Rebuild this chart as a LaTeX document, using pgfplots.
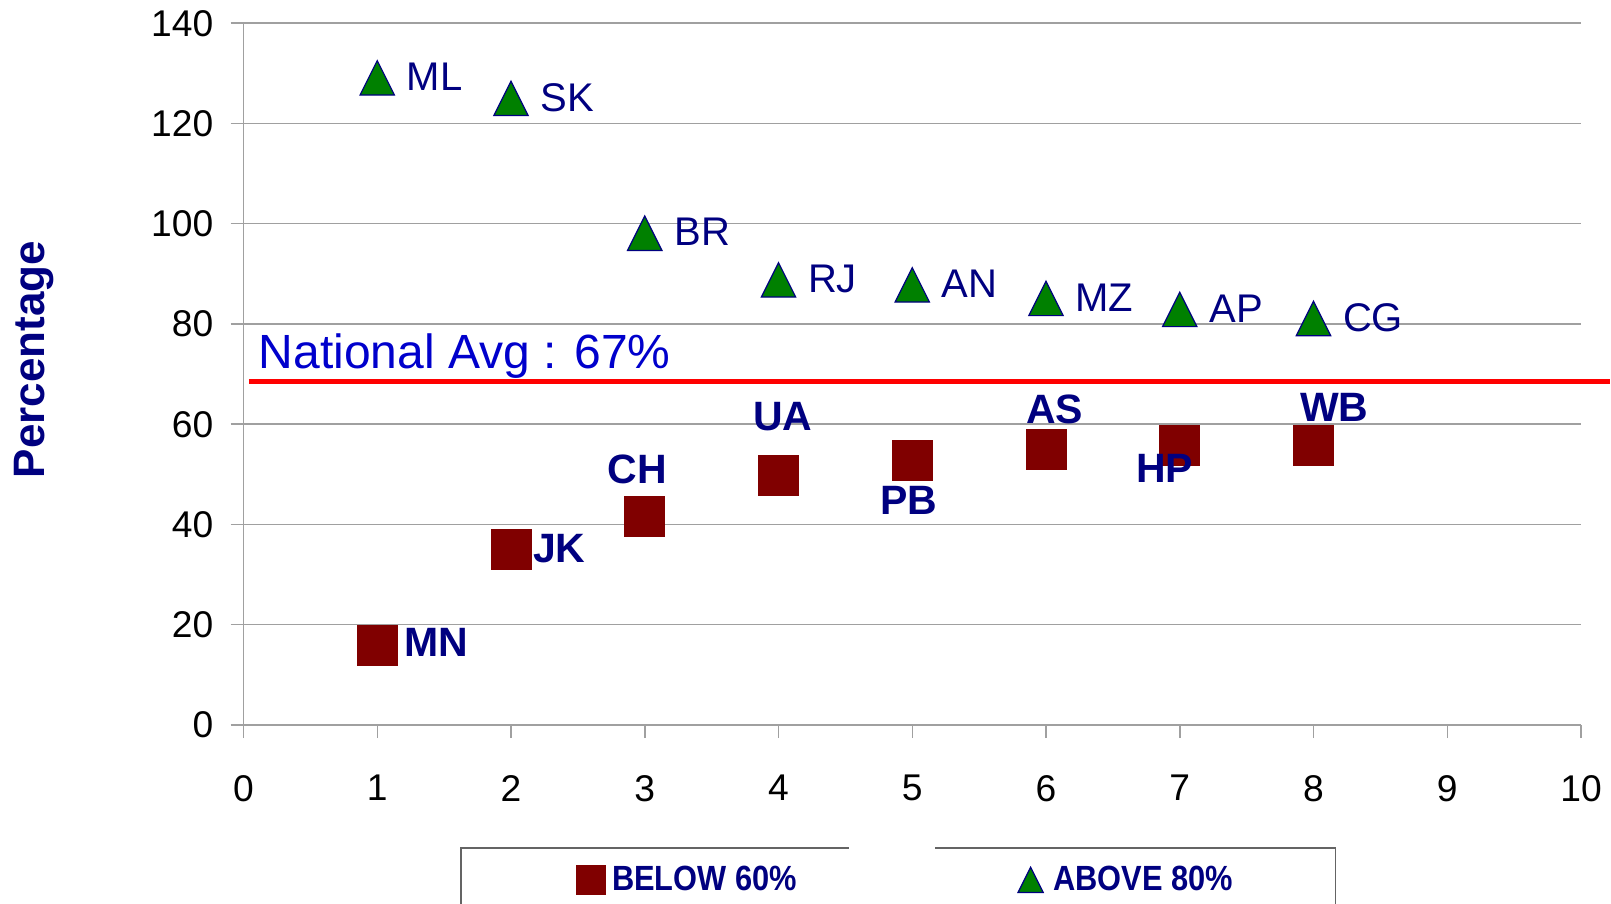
\documentclass[border=0pt]{standalone}
\usepackage{fontspec}
\setmainfont{Liberation Sans}
\newfontfamily\condfont[FakeStretch=0.88]{Liberation Sans}
\usepackage{pgfplots}
\usepackage{pgfplotstable}
\pgfplotsset{compat=1.18}
\definecolor{navyc}{RGB}{0,0,128}
\definecolor{maroonc}{RGB}{128,0,0}
\definecolor{greenc}{RGB}{0,128,0}
\definecolor{blueavg}{RGB}{0,0,204}
\definecolor{gridgray}{RGB}{160,160,160}
\definecolor{boxgray}{RGB}{100,100,100}
\pgfdeclareplotmark{xtri}{%
  \pgfpathmoveto{\pgfqpoint{0pt}{\pgfplotmarksize}}%
  \pgfpathlineto{\pgfqpoint{-\pgfplotmarksize}{-\pgfplotmarksize}}%
  \pgfpathlineto{\pgfqpoint{\pgfplotmarksize}{-\pgfplotmarksize}}%
  \pgfpathclose
  \pgfusepathqfillstroke}
\pgfplotsset{
  sqleg/.style={legend image code/.code={\path (-13.45bp,0bp); \draw[##1, mark size=7.25bp] plot coordinates {(0bp,0bp)};}},
  trileg/.style={legend image code/.code={\draw[##1, mark size=6.3bp] plot coordinates {(0bp,0bp)};}},
}

\pgfplotstableread{
x y lab dx dy
1 15.9 MN 29.7 1.3
2 35.1 JK 24.2 0
3 41.7 CH -3.6 23.4
4 49.9 UA 2.1 29
5 52.9 PB -1.7 -20.5
6 54.9 AS 4.3 20
7 55.7 HP -7.5 -11.5
8 55.7 WB 10.4 19
}\below

\pgfplotstableread{
x y lab
1 129.1 ML
2 125.0 SK
3 98.1 BR
4 88.8 RJ
5 87.8 AN
6 85.1 MZ
7 82.9 AP
8 81.1 CG
}\above

\begin{document}
\begin{tikzpicture}
\path[use as bounding box] (0bp,0bp) rectangle (805.5bp,452bp);
\begin{axis}[
  at={(121.75bp,89.5bp)}, anchor=south west,
  scale only axis, width=668.75bp, height=350.9bp,
  xmin=0, xmax=10, ymin=0, ymax=140,
  xtick={0,1,...,10}, ytick={0,20,...,140},
  axis lines*=left,
  axis line style={draw=gridgray, line width=0.75bp},
  ymajorgrids, grid style={draw=gridgray, line width=0.75bp},
  tick align=outside, major tick length=6.5bp,
  tick style={draw=gridgray, line width=0.75bp},
  /pgf/number format/assume math mode=true,
  ticklabel style={font=\fontsize{18.6bp}{22bp}\selectfont, inner sep=0pt, text=black},
  yticklabel style={anchor=east, xshift=-8.4bp},
  xticklabel style={anchor=north, yshift=-18.4bp},
  clip=false,
  legend columns=2,
  legend style={
    at={(axis description cs:0.16187,-0.17384)}, anchor=north west,
    draw=boxgray, line width=0.8bp,
    inner xsep=51.3bp, inner ysep=8.75bp,
    font=\condfont\bfseries\fontsize{17.5bp}{20bp}\selectfont,
    text=navyc,
    nodes={inner sep=0pt},
    /tikz/column 1/.style={column sep=3.3bp},
    /tikz/column 2/.style={column sep=110.5bp},
    /tikz/column 3/.style={column sep=5bp},
  },
  legend cell align=left,
]
\addplot[red, line width=2.6bp, forget plot] coordinates {(0.04,68.6) (10.22,68.6)};

\addplot[only marks, mark=square*, mark size=10bp,
  mark options={fill=maroonc, draw=maroonc, line width=0.3bp},
  sqleg,
  nodes near coords, point meta=explicit symbolic,
  visualization depends on={\thisrow{dx} \as \dx},
  visualization depends on={\thisrow{dy} \as \dy},
  every node near coord/.append style={anchor=center, xshift=\dx bp, yshift=\dy bp,
    font=\bfseries\fontsize{20.5bp}{24bp}\selectfont, text=navyc, inner sep=0pt},
] table[x=x, y=y, meta=lab] {\below};
\addlegendentry{BELOW 60\%}

\addplot[only marks, mark=xtri, mark size=8.6bp,
  mark options={fill=greenc, draw=navyc, line width=0.6bp},
  trileg,
  nodes near coords, point meta=explicit symbolic,
  every node near coord/.append style={anchor=west, xshift=14.5bp, yshift=0.5bp,
    font=\fontsize{20bp}{24bp}\selectfont, text=navyc, inner sep=0pt},
] table[x=x, y=y, meta=lab] {\above};
\addlegendentry{ABOVE 80\%}
\end{axis}
\node[anchor=base west, inner sep=0pt, text=blueavg, font=\fontsize{24bp}{28bp}\selectfont] at (129.15bp,267.85bp) {National Avg : 67\%};
\node[rotate=90, inner sep=0pt, text=navyc, font=\bfseries\fontsize{22bp}{26bp}\selectfont] at (17bp,272.2bp) {Percentage};
\draw[white, line width=2bp] (424.3bp,28.5bp) -- (467.5bp,28.5bp);
\end{tikzpicture}
\end{document}
